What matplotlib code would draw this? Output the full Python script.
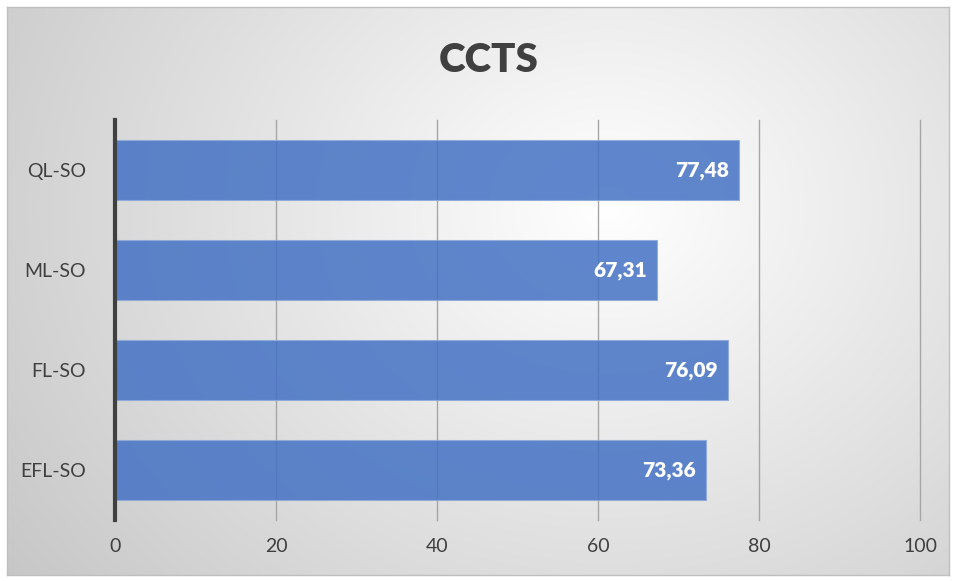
import numpy as np
import matplotlib.pyplot as plt

categories = ['EFL-SO', 'FL-SO', 'ML-SO', 'QL-SO']
values = [73.36, 76.09, 67.31, 77.48]
value_labels = ['73,36', '76,09', '67,31', '77,48']
xticks = [0, 20, 40, 60, 80, 100]

plt.rcParams['font.family'] = ['Lato', 'DejaVu Sans']

W, H = 956, 581
fig = plt.figure(figsize=(W / 100, H / 100), dpi=100)

# radial gradient background (white centre, grey edges)
bg = fig.add_axes([7 / W, 6 / H, 942 / W, 568 / H])
yy, xx = np.mgrid[0:568, 0:942]
cx, cy = 600, 200
d = np.sqrt(((xx - cx) / 620.0) ** 2 + ((yy - cy) / 520.0) ** 2)
shade = 1.0 - 0.23 * np.clip(d, 0, 1.25) / 1.25
img = np.dstack([shade, shade, shade])
bg.imshow(img, aspect='auto', interpolation='bilinear')
bg.set_xticks([])
bg.set_yticks([])
for s in bg.spines.values():
    s.set_color('#bfbfbf')
    s.set_linewidth(1)

ax = fig.add_axes([115 / W, 1 - 520 / H, 805 / W, 400 / H])
ax.set_facecolor('none')
ypos = np.arange(len(categories))
ax.barh(ypos, values, height=0.6, color='#4472c4', alpha=0.85,
        edgecolor='#8eaadb', linewidth=0.8, zorder=2)
for y, v, lab in zip(ypos, values, value_labels):
    ax.text(v - 1.2, y, lab, ha='right', va='center', color='white',
            fontsize=15, fontweight='heavy', zorder=3)

ax.set_xlim(0, 100)
ax.set_ylim(-0.5, len(categories) - 0.5)
ax.set_xticks(xticks)
ax.set_yticks(ypos)
ax.set_yticklabels(categories)
ax.tick_params(axis='both', length=0, labelsize=14, colors='#404040')
ax.tick_params(axis='x', pad=13)
ax.tick_params(axis='y', pad=21)
ax.set_axisbelow(True)
for gx in xticks[1:]:
    ax.axvline(gx, color='#a6a6a6', linewidth=1, zorder=1, clip_on=False)
for s in ['top', 'right', 'bottom']:
    ax.spines[s].set_visible(False)
ax.spines['left'].set_color('#404040')
ax.spines['left'].set_linewidth(3)
ax.spines['left'].set_zorder(4)

fig.text(489 / W, 1 - 60 / H, 'CCTS', ha='center', va='center',
         fontsize=29, fontweight='heavy', color='#404040')

fig.savefig('out.png', dpi=100)
